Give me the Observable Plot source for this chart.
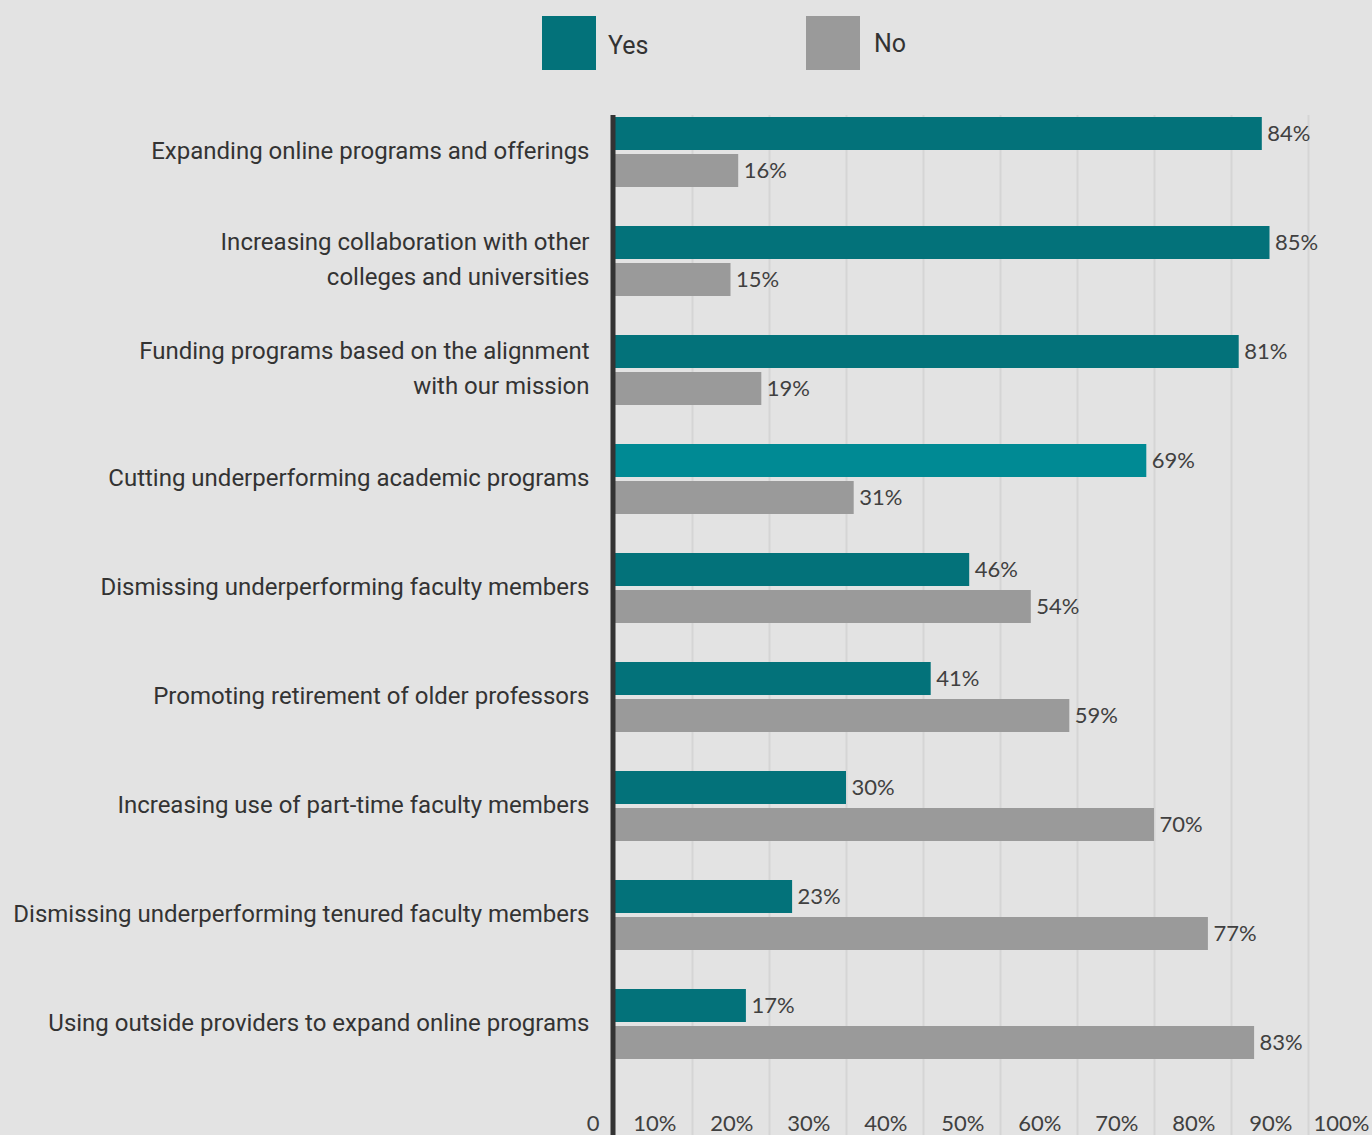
<!DOCTYPE html>
<html>
<head>
<meta charset="utf-8">
<script src="https://cdn.jsdelivr.net/npm/d3@7"></script>
<script src="https://cdn.jsdelivr.net/npm/@observablehq/plot@0.6"></script>
<style>
  html, body { margin: 0; padding: 0; background: #e3e3e3; }
  body { width: 1372px; height: 1135px; overflow: hidden; font-family: Roboto, "Noto Sans", sans-serif; }
  #legend { position: relative; height: 100px; width: 1372px; }
  .sw { position: absolute; top: 16px; width: 54px; height: 54px; }
  .lt { position: absolute; top: 28px; font-size: 25px; color: #333; line-height: 30px; }
  #chart svg { display: block; }
</style>
</head>
<body>
<div id="legend">
  <div class="sw" style="left:542px;background:#03727a"></div>
  <div class="lt" style="left:608px;top:31px">Yes</div>
  <div class="sw" style="left:806px;background:#9a9a9a"></div>
  <div class="lt" style="left:874px;top:29px">No</div>
</div>
<div id="chart"></div>
<script>
const categories = [
  "Expanding online programs and offerings",
  "Increasing collaboration with other\ncolleges and universities",
  "Funding programs based on the alignment\nwith our mission",
  "Cutting underperforming academic programs",
  "Dismissing underperforming faculty members",
  "Promoting retirement of older professors",
  "Increasing use of part-time faculty members",
  "Dismissing underperforming tenured faculty members",
  "Using outside providers to expand online programs"
];
const yesValues = [84, 85, 81, 69, 46, 41, 30, 23, 17];
const noValues  = [16, 15, 19, 31, 54, 59, 70, 77, 83];
const xTicks = [0, 10, 20, 30, 40, 50, 60, 70, 80, 90, 100];
const xTickLabels = ["0", "10%", "20%", "30%", "40%", "50%", "60%", "70%", "80%", "90%", "100%"];
const highlightedCategory = "Cutting underperforming academic programs";

const yesRows = categories.map((c, i) => ({cat: c, series: "Yes", value: yesValues[i]}));
const noRows = categories.map((c, i) => ({cat: c, series: "No", value: noValues[i]}));
const tickRows = xTicks.map((t, i) => ({t, label: xTickLabels[i]}));

const TEAL = "#03727a", TEAL_HI = "#008a94", GRAY = "#9a9a9a";
const numFont = "Lato, 'Open Sans', sans-serif";

const pad = 39 / 109;
const chart = Plot.plot({
  width: 1372,
  height: 1035,
  marginLeft: 615,
  marginRight: 0,
  marginTop: 15,
  marginBottom: 0,
  style: {background: "transparent", fontFamily: "Roboto, sans-serif"},
  x: {domain: [0, 100], range: [615, 1385], axis: null},
  y: {domain: categories, range: [17, 959], paddingInner: pad, paddingOuter: 0, align: 0, axis: null},
  marks: [
    Plot.ruleX(xTicks.filter(t => t > 0), {x: d => d, stroke: "#d5d5d5", strokeWidth: 2}),
    Plot.barX(yesRows, {y: "cat", x: "value", insetBottom: 37,
      fill: d => d.cat === highlightedCategory ? TEAL_HI : TEAL}),
    Plot.barX(noRows, {y: "cat", x: "value", insetTop: 37, fill: GRAY}),
    Plot.ruleX([0], {stroke: "#333", strokeWidth: 5, dx: -2.5}),
    Plot.text(yesRows, {y: "cat", x: "value", text: d => d.value + "%", textAnchor: "start",
      dx: 5, dy: -18.5, fontSize: 22, fill: "#404040", fontFamily: numFont}),
    Plot.text(noRows, {y: "cat", x: "value", text: d => d.value + "%", textAnchor: "start",
      dx: 5, dy: 18.5, fontSize: 22, fill: "#404040", fontFamily: numFont}),
    Plot.text(categories, {y: d => d, frameAnchor: "left", text: d => d, textAnchor: "end",
      dx: -26, dy: -5, fontSize: 24, lineHeight: 1.46, fill: "#333"}),
    Plot.text(tickRows, {x: "t", frameAnchor: "bottom", text: "label", textAnchor: "end",
      lineAnchor: "bottom", dx: -16, dy: -5, fontSize: 22, fill: "#404040", fontFamily: numFont})
  ]
});
document.getElementById("chart").appendChild(chart);
</script>
</body>
</html>
